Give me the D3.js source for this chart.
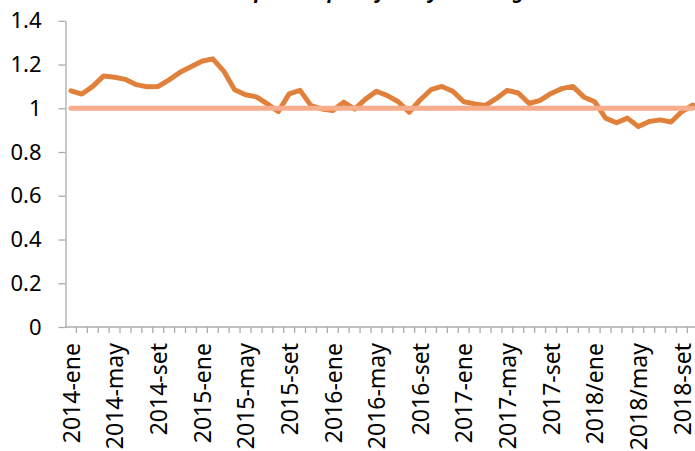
<!DOCTYPE html>
<html>
<head>
<meta charset="utf-8">
<script src="https://cdn.jsdelivr.net/npm/d3@7"></script>
<style>
    body { margin: 0; background: #fff; }
    #chart { width: 695px; height: 451px; overflow: hidden; }
</style>
</head>
<body>
<div id="chart"></div>
<script>
const categories = [
    '2014-ene', '2014-feb', '2014-mar', '2014-abr', '2014-may', '2014-jun', '2014-jul', '2014-ago', '2014-set', '2014-oct', '2014-nov', '2014-dic',
    '2015-ene', '2015-feb', '2015-mar', '2015-abr', '2015-may', '2015-jun', '2015-jul', '2015-ago', '2015-set', '2015-oct', '2015-nov', '2015-dic',
    '2016-ene', '2016-feb', '2016-mar', '2016-abr', '2016-may', '2016-jun', '2016-jul', '2016-ago', '2016-set', '2016-oct', '2016-nov', '2016-dic',
    '2017-ene', '2017-feb', '2017-mar', '2017-abr', '2017-may', '2017-jun', '2017-jul', '2017-ago', '2017-set', '2017-oct', '2017-nov', '2017-dic',
    '2018/ene', '2018/feb', '2018/mar', '2018/abr', '2018/may', '2018/jun', '2018/jul', '2018/ago', '2018-set', '2018-oct'
];

const ratio = [
    1.08, 1.065, 1.10, 1.148, 1.142, 1.132, 1.108, 1.098, 1.10, 1.13, 1.165, 1.19,
    1.215, 1.226, 1.17, 1.085, 1.062, 1.052, 1.02, 0.985, 1.066, 1.082, 1.012, 0.997,
    0.99, 1.028, 0.996, 1.042, 1.078, 1.058, 1.03, 0.982, 1.038, 1.085, 1.1, 1.078,
    1.03, 1.02, 1.013, 1.045, 1.082, 1.07, 1.022, 1.036, 1.068, 1.09, 1.1, 1.052,
    1.03, 0.955, 0.934, 0.955, 0.917, 0.94, 0.947, 0.937, 0.985, 1.015
];

const refValue = 1;
const yTicks = [0, 0.2, 0.4, 0.6, 0.8, 1, 1.2, 1.4];
const chartTitle = 'Relación de precios para flaco y novillo gordo';

function drawChart(chartId, width, height) {
    const margin = { top: 20.8, left: 65.5, bottom: 124, right: -3.3 };
    const graphWidth = width - margin.left - margin.right;
    const graphHeight = height - margin.top - margin.bottom;
    const axisColor = '#ababab';

    const svg = d3.select(`#${chartId}`).append('svg').attr('width', width).attr('height', height);

    svg.append('text')
        .attr('x', 354)
        .attr('y', -2)
        .attr('text-anchor', 'middle')
        .attr('font-family', 'Noto Sans')
        .attr('font-size', 20)
        .attr('font-weight', 'bold')
        .attr('font-style', 'italic')
        .text(chartTitle);

    const graph = svg.append('g').attr('transform', `translate(${margin.left}, ${margin.top})`);

    const xScale = d3.scaleBand().domain(categories).range([0, graphWidth]).padding(0);
    const yScale = d3.scaleLinear().domain([0, 1.4]).range([graphHeight, 0]);
    const xMid = (d) => xScale(d) + xScale.bandwidth() / 2;

    // y axis
    const yAxis = graph
        .append('g')
        .call(d3.axisLeft(yScale).tickValues(yTicks).tickSize(7).tickSizeOuter(0).tickFormat(d3.format('~g')));
    yAxis.selectAll('line, path').attr('stroke', axisColor).attr('stroke-width', 1.3);
    yAxis.selectAll('text')
        .attr('x', -24)
        .attr('font-family', 'Noto Sans')
        .attr('font-size', 22)
        .attr('fill', '#000');

    // x axis, ticks between categories
    const xAxis = graph.append('g').attr('transform', `translate(0, ${graphHeight})`);
    xAxis.append('line')
        .attr('x1', 0)
        .attr('x2', graphWidth)
        .attr('stroke', axisColor)
        .attr('stroke-width', 1.3);
    xAxis.selectAll('.minor')
        .data(categories.slice(1).concat(['end']))
        .enter()
        .append('line')
        .attr('class', 'minor')
        .attr('x1', (d) => (d === 'end' ? graphWidth : xScale(d)))
        .attr('x2', (d) => (d === 'end' ? graphWidth : xScale(d)))
        .attr('y1', 0)
        .attr('y2', 6)
        .attr('stroke', axisColor)
        .attr('stroke-width', 1.3);

    const labelAxis = graph
        .append('g')
        .attr('transform', `translate(0, ${graphHeight})`)
        .call(d3.axisBottom(xScale).tickValues(categories.filter((d, i) => i % 4 === 0)).tickSize(0));
    labelAxis.select('.domain').remove();
    labelAxis.selectAll('text')
        .attr('transform', 'rotate(-90)')
        .attr('text-anchor', 'end')
        .attr('x', -16)
        .attr('y', 0)
        .attr('dy', '0.38em')
        .attr('font-family', 'Noto Sans')
        .attr('font-size', 23)
        .attr('fill', '#000');

    // series
    const line = d3
        .line()
        .x((d, i) => xMid(categories[i]))
        .y((d) => yScale(d));

    graph.append('path')
        .datum(ratio)
        .attr('d', line)
        .attr('fill', 'none')
        .attr('stroke', '#e0803a')
        .attr('stroke-width', 5)
        .attr('stroke-linejoin', 'round')
        .attr('stroke-linecap', 'round');

    graph.append('line')
        .attr('x1', xMid(categories[0]))
        .attr('x2', xMid(categories[categories.length - 1]))
        .attr('y1', yScale(refValue))
        .attr('y2', yScale(refValue))
        .attr('stroke', '#f7ad8b')
        .attr('stroke-width', 5)
        .attr('stroke-linecap', 'round');
}

drawChart('chart', 695, 451);
</script>
</body>
</html>
